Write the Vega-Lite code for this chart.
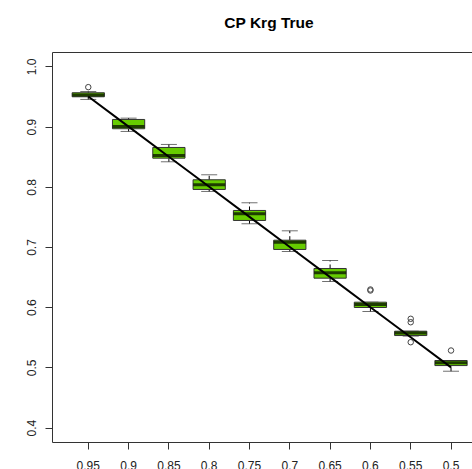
{
  "$schema": "https://vega.github.io/schema/vega-lite/v6.json",
  "width": 420,
  "height": 390,
  "autosize": {"type": "none"},
  "padding": {"left": 52, "top": 52, "right": 0, "bottom": 27},
  "background": "white",
  "title": {"text": "CP Krg True", "font": "Liberation Sans", "fontSize": 15.5, "fontWeight": "bold", "color": "#000000", "anchor": "middle", "dx": 7, "baseline": "alphabetic", "offset": 9},
  "config": {
    "view": {"stroke": null},
    "axis": {"domainColor": "#333333", "tickColor": "#333333", "labelColor": "#222222", "labelFont": "Liberation Sans", "labelFontSize": 12, "grid": false, "title": null, "tickSize": 7}
  },
  "datasets": {
    "stats": [
      {"level": "0.95", "nominal": 0.95, "lower": 0.9452, "q1": 0.9496, "median": 0.9526, "q3": 0.9563, "upper": 0.9584},
      {"level": "0.9", "nominal": 0.90, "lower": 0.892, "q1": 0.8965, "median": 0.9003, "q3": 0.9119, "upper": 0.9141},
      {"level": "0.85", "nominal": 0.85, "lower": 0.8416, "q1": 0.8476, "median": 0.8521, "q3": 0.8654, "upper": 0.8704},
      {"level": "0.8", "nominal": 0.80, "lower": 0.7923, "q1": 0.7956, "median": 0.8034, "q3": 0.8117, "upper": 0.82},
      {"level": "0.75", "nominal": 0.75, "lower": 0.7386, "q1": 0.7441, "median": 0.7552, "q3": 0.7607, "upper": 0.7735},
      {"level": "0.7", "nominal": 0.70, "lower": 0.6925, "q1": 0.6959, "median": 0.708, "q3": 0.7113, "upper": 0.7269},
      {"level": "0.65", "nominal": 0.65, "lower": 0.6427, "q1": 0.6482, "median": 0.6571, "q3": 0.6643, "upper": 0.6776},
      {"level": "0.6", "nominal": 0.60, "lower": 0.5928, "q1": 0.5995, "median": 0.6045, "q3": 0.6083, "upper": 0.6083},
      {"level": "0.55", "nominal": 0.55, "lower": 0.552, "q1": 0.5529, "median": 0.5572, "q3": 0.5601, "upper": 0.5601},
      {"level": "0.5", "nominal": 0.50, "lower": 0.4936, "q1": 0.503, "median": 0.5076, "q3": 0.5114, "upper": 0.5114}
    ],
    "outliers": [
      {"level": "0.95", "value": 0.9656},
      {"level": "0.6", "value": 0.6294},
      {"level": "0.6", "value": 0.6277},
      {"level": "0.55", "value": 0.5807},
      {"level": "0.55", "value": 0.575},
      {"level": "0.55", "value": 0.5418},
      {"level": "0.5", "value": 0.528}
    ]
  },
  "layer": [
    {
      "data": {"name": "stats"},
      "mark": {"type": "rule", "color": "#000000", "strokeDash": [4, 3], "strokeWidth": 1},
      "encoding": {
        "x": {"field": "level", "type": "ordinal",
          "scale": {"type": "band", "domain": ["0.95", "0.9", "0.85", "0.8", "0.75", "0.7", "0.65", "0.6", "0.55", "0.5"], "range": [0, 435.3], "paddingInner": 0, "paddingOuter": 0.4},
          "axis": {"orient": "bottom", "labelAngle": 0, "labelPadding": 11, "labelBaseline": "top", "domain": true, "ticks": true}},
        "y": {"field": "q3", "type": "quantitative",
          "scale": {"domain": [0.376, 1.024], "nice": false, "zero": false},
          "axis": {"orient": "left", "values": [0.4, 0.5, 0.6, 0.7, 0.8, 0.9, 1.0], "format": ".1f", "labelAngle": -90, "labelAlign": "center", "labelBaseline": "bottom", "labelPadding": 7}},
        "y2": {"field": "upper"}
      }
    },
    {
      "data": {"name": "stats"},
      "mark": {"type": "rule", "color": "#000000", "strokeDash": [4, 3], "strokeWidth": 1},
      "encoding": {
        "x": {"field": "level", "type": "ordinal", "axis": null},
        "y": {"field": "lower", "type": "quantitative"},
        "y2": {"field": "q1"}
      }
    },
    {
      "data": {"name": "stats"},
      "mark": {"type": "tick", "color": "#333333", "size": 16, "thickness": 1},
      "encoding": {
        "x": {"field": "level", "type": "ordinal", "axis": null},
        "y": {"field": "upper", "type": "quantitative"}
      }
    },
    {
      "data": {"name": "stats"},
      "mark": {"type": "tick", "color": "#333333", "size": 16, "thickness": 1},
      "encoding": {
        "x": {"field": "level", "type": "ordinal", "axis": null},
        "y": {"field": "lower", "type": "quantitative"}
      }
    },
    {
      "data": {"name": "stats"},
      "mark": {"type": "bar", "fill": "#66CC00", "stroke": "#333333", "strokeWidth": 1, "width": {"band": 0.8}},
      "encoding": {
        "x": {"field": "level", "type": "ordinal", "axis": null},
        "y": {"field": "q1", "type": "quantitative"},
        "y2": {"field": "q3"}
      }
    },
    {
      "data": {"name": "stats"},
      "mark": {"type": "tick", "color": "#000000", "size": 32, "thickness": 3},
      "encoding": {
        "x": {"field": "level", "type": "ordinal", "axis": null},
        "y": {"field": "median", "type": "quantitative"}
      }
    },
    {
      "data": {"name": "outliers"},
      "mark": {"type": "point", "shape": "circle", "filled": false, "size": 30, "stroke": "#444444", "strokeWidth": 1, "opacity": 1},
      "encoding": {
        "x": {"field": "level", "type": "ordinal", "axis": null},
        "y": {"field": "value", "type": "quantitative"}
      }
    },
    {
      "data": {"name": "stats"},
      "mark": {"type": "line", "color": "#000000", "strokeWidth": 2},
      "encoding": {
        "x": {"field": "level", "type": "ordinal", "axis": {"orient": "top", "labels": false, "ticks": false, "domain": true}},
        "y": {"field": "nominal", "type": "quantitative"}
      }
    }
  ],
  "resolve": {"axis": {"x": "independent"}}
}
